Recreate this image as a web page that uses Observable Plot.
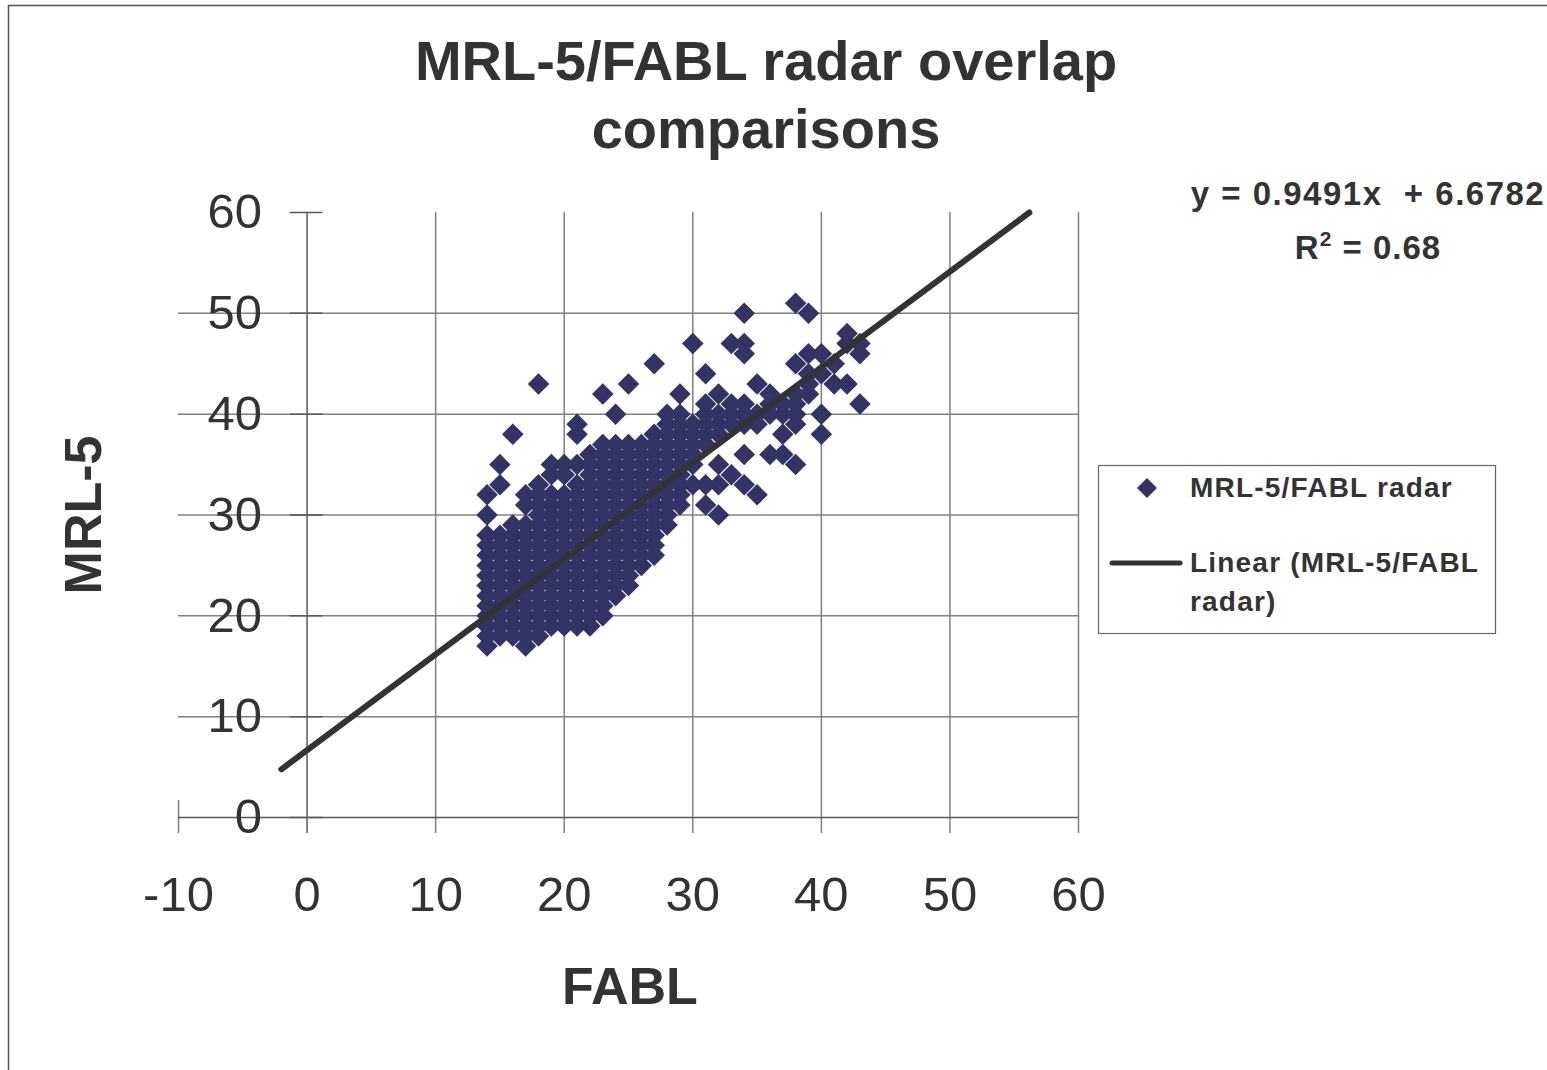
<!DOCTYPE html>
<html>
<head>
<meta charset="utf-8">
<script src="https://cdn.jsdelivr.net/npm/d3@7"></script>
<script src="https://cdn.jsdelivr.net/npm/@observablehq/plot@0.6"></script>
<style>
html, body { margin: 0; padding: 0; background: #fff; }
#chart { position: relative; width: 1547px; height: 1070px; overflow: hidden; }
</style>
</head>
<body>
<div id="chart"></div>
<script>
// ---- texts ----
const titleLines = ["MRL-5/FABL radar overlap", "comparisons"];
const xLabel = "FABL";
const yLabel = "MRL-5";
const seriesName = "MRL-5/FABL radar";
const trendNameLines = ["Linear (MRL-5/FABL", "radar)"];

// ---- trend line (from the chart's equation) ----
const slope = 0.9491;
const intercept = 6.6782;
const rSquared = "0.68";
const trendX = [-2, 56.18];

// ---- ticks ----
const xTicks = [-10, 0, 10, 20, 30, 40, 50, 60];
const yTicks = [0, 10, 20, 30, 40, 50, 60];

// ---- data: FABL values (columns) and MRL-5 values observed at each ----
const fablColumns = [14, 15, 16, 17, 18, 19, 20, 21, 22, 23, 24, 25, 26, 27, 28, 29, 30, 31, 32, 33, 34, 35, 36, 37, 38, 39, 40, 41, 42, 43];
const mrlByColumn = [
  [17,18,19,20,21,22,23,24,25,26,27,28,30,32],            // 14
  [18,19,20,21,22,23,24,25,26,27,28,33,35],               // 15
  [18,19,20,21,22,23,24,25,26,27,28,29,38],               // 16
  [17,18,19,20,21,22,23,24,25,26,27,28,29,31,32],         // 17
  [18,19,20,21,22,23,24,25,26,27,28,29,30,31,32,33,43],   // 18
  [19,20,21,22,23,24,25,26,27,28,29,30,31,32,34,35],      // 19
  [19,20,21,22,23,24,25,26,27,28,29,30,31,32,34,35],      // 20
  [19,20,21,22,23,24,25,26,27,28,29,30,31,32,33,35,38,39],// 21
  [19,20,21,22,23,24,25,26,27,28,29,30,31,32,33,34,35,36],// 22
  [20,21,22,23,24,25,26,27,28,29,30,31,32,33,34,35,36,37,42], // 23
  [22,23,24,25,26,27,28,29,30,31,32,33,34,35,36,37,40],   // 24
  [23,24,25,26,27,28,29,30,31,32,33,34,35,36,37,43],      // 25
  [25,26,27,28,29,30,31,32,33,34,35,36,37],               // 26
  [26,27,28,29,30,31,32,33,34,35,36,37,38,45],            // 27
  [29,30,31,32,33,34,35,36,37,38,39,40],                  // 28
  [31,32,33,34,35,36,37,38,39,40,42],                     // 29
  [33,35,36,37,38,39,47],                                 // 30
  [31,33,37,38,39,40,41,44],                              // 31
  [30,33,35,38,39,40,42],                                 // 32
  [34,39,40,41,47],                                       // 33
  [33,36,39,40,41,46,47,50],                              // 34
  [32,39,40,43],                                          // 35
  [36,40,41,42],                                          // 36
  [36,38,40,41],                                          // 37
  [35,39,40,41,42,45,51],                                 // 38
  [42,43,44,46,50],                                       // 39
  [38,40,44,46],                                          // 40
  [43,45],                                                // 41
  [43,47,48],                                             // 42
  [41,46,47]                                              // 43
];

// ---- colours ----
const pointColor = "#333366";
const lineColor = "#333333";
const textColor = "#333333";
const gridColor = "#808080";
const axisColor = "#595959";

// table for Plot
const points = fablColumns.flatMap((x, i) => mrlByColumn[i].map(y => ({fabl: x, mrl: y})));
const trend = trendX.map(x => ({fabl: x, mrl: slope * x + intercept}));

const font = "'Liberation Sans', Arial, Helvetica, sans-serif";
const dotR = 9.7;

const svg = Plot.plot({
  width: 1547,
  height: 1070,
  marginLeft: 178,
  marginRight: 469,
  marginTop: 212,
  marginBottom: 253,
  x: {domain: [-10, 60], axis: null},
  y: {domain: [0, 60], axis: null},
  style: {fontFamily: font, background: "white", overflow: "visible"},
  marks: [
    Plot.ruleY(yTicks.filter(d => d > 0 && d < 60), {y: d => d, stroke: gridColor, strokeWidth: 1.5}),
    Plot.ruleX(xTicks.filter(d => d > 0), {x: d => d, stroke: gridColor, strokeWidth: 1.5, insetBottom: -16}),
    Plot.ruleX(xTicks.filter(d => d < 0), {x: d => d, y1: 0, y2: 0, insetTop: -17, insetBottom: -16, stroke: gridColor, strokeWidth: 1.5}),
    Plot.ruleY([0], {y: d => d, stroke: axisColor, strokeWidth: 1.5}),
    Plot.ruleX([0], {x: d => d, stroke: axisColor, strokeWidth: 1.5, insetBottom: -16}),
    Plot.ruleY(yTicks, {y: d => d, x1: 0, x2: 0, insetLeft: -17, insetRight: -16, stroke: axisColor, strokeWidth: 1.5}),
    Plot.dot(points, {x: "fabl", y: "mrl", symbol: "diamond2", r: dotR, fill: pointColor, stroke: "none"}),
    Plot.line(trend, {x: "fabl", y: "mrl", stroke: lineColor, strokeWidth: 6, strokeLinecap: "round"}),
    Plot.text(xTicks, {x: d => d, y: 0, dy: 78, text: d => String(d), fontSize: 49, fill: textColor}),
    Plot.text(yTicks, {x: 0, y: d => d, dx: -45, text: d => String(d), textAnchor: "end", fontSize: 49, fill: textColor})
  ]
});

document.getElementById("chart").appendChild(svg);

// ---- decorations: border, titles, equation, legend ----
const s = d3.select(svg);
s.insert("rect", ":first-child")
  .attr("x", 8.5).attr("y", 5.5).attr("width", 1700).attr("height", 1200)
  .attr("fill", "none").attr("stroke", "#555").attr("stroke-width", 1.5);

const g = s.append("g").attr("font-family", font).attr("fill", textColor).attr("font-weight", "bold");

g.append("text").attr("x", 766).attr("y", 80).attr("text-anchor", "middle").attr("font-size", 56).text(titleLines[0]);
g.append("text").attr("x", 766).attr("y", 148).attr("text-anchor", "middle").attr("font-size", 56).text(titleLines[1]);

g.append("text").attr("x", 630).attr("y", 1004).attr("text-anchor", "middle").attr("font-size", 52).text(xLabel);
g.append("text").attr("transform", "translate(101,515) rotate(-90)").attr("text-anchor", "middle").attr("font-size", 52).text(yLabel);

// equation
g.append("text").attr("x", 1368).attr("y", 205).attr("text-anchor", "middle").attr("font-size", 33)
  .attr("letter-spacing", 1.5).style("white-space", "pre")
  .text(`y = ${slope}x  + ${intercept}`);
const r2t = g.append("text").attr("x", 1368).attr("y", 259).attr("text-anchor", "middle").attr("font-size", 33).attr("letter-spacing", 1);
r2t.append("tspan").text("R");
r2t.append("tspan").attr("font-size", 21).attr("dy", -13).text("2");
r2t.append("tspan").attr("dy", 13).text(` = ${rSquared}`);

// legend
const lg = s.append("g");
lg.append("rect").attr("x", 1098.5).attr("y", 465.5).attr("width", 397).attr("height", 168)
  .attr("fill", "white").attr("stroke", "#666").attr("stroke-width", 1.2);
lg.append("path").attr("transform", "translate(1147,488)")
  .attr("d", d3.symbol(d3.symbolDiamond2, Math.PI * 81)()).attr("fill", pointColor);
lg.append("line").attr("x1", 1112).attr("x2", 1180).attr("y1", 563).attr("y2", 563)
  .attr("stroke", lineColor).attr("stroke-width", 5).attr("stroke-linecap", "round");
const lt = lg.append("g").attr("font-family", font).attr("fill", textColor).attr("font-weight", "bold")
  .attr("font-size", 28).attr("letter-spacing", 1.2).attr("text-anchor", "start");
lt.append("text").attr("x", 1190).attr("y", 497).attr("text-anchor", "start").text(seriesName);
lt.append("text").attr("x", 1190).attr("y", 572).attr("text-anchor", "start").text(trendNameLines[0]);
lt.append("text").attr("x", 1190).attr("y", 611).attr("text-anchor", "start").text(trendNameLines[1]);
</script>
</body>
</html>
